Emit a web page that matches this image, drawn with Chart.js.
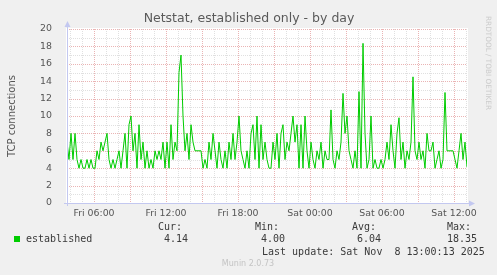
<!DOCTYPE html>
<html>
<head>
<meta charset="utf-8">
<script src="https://cdn.jsdelivr.net/npm/chart.js@4"></script>
<style>
  html, body { margin: 0; padding: 0; background: #f0f0f0; }
  canvas { display: block; }
</style>
</head>
<body>
<canvas id="myChart" width="497" height="275"></canvas>
<script>
// time axis: hours counted from Fri 00:00, one sample every 10 minutes
const startHour = 3.75;
const stepHours = 1 / 6;
const established = [
    7, 5, 8, 5, 8,
    5, 4, 5, 4, 4, 5, 4, 5, 4, 4,
    6, 5, 7, 6, 7,
    8, 5, 4, 5, 4,
    5, 6, 4, 6,
    8, 4, 9, 10,
    6, 8, 4, 9,
    5, 7, 4,
    6, 4, 5, 4, 6,
    5, 6, 5, 7, 4,
    7, 4, 9,
    5, 7, 6,
    15, 17,
    10, 6, 8,
    5, 9, 7, 6,
    6, 6, 6,
    4, 5, 4,
    7, 5, 8, 6,
    4, 7, 5, 4,
    6, 4, 7, 5, 8,
    5, 7, 10, 6,
    5, 4, 6,
    4, 8, 9, 5, 10,
    4, 9, 5, 7,
    5, 4, 4,
    7, 5, 8, 4, 8,
    9, 5, 7,
    6, 8, 10, 7, 9,
    4, 9, 4, 10,
    6, 4, 7, 5, 4,
    6, 5, 7, 4, 6, 5, 5,
    10.7,
    5, 4, 6, 5, 7,
    12.6,
    8, 10,
    6, 5, 4, 6,
    4,
    12.8,
    4,
    18.35,
    8, 4, 5, 10,
    4, 5, 4, 4, 5, 4,
    5, 7, 5, 9, 6, 4, 8, 9.8,
    5, 7, 4, 6, 5, 7,
    14.5,
    6, 5, 7, 5, 6, 4, 8, 6,
    6, 7, 4, 5, 6, 4, 5,
    12.7,
    6, 6, 6, 6, 5, 4, 6,
    8, 5, 7, 4.14
];
const tickHours = [6, 12, 18, 24, 30, 36];
const tickLabels = ['Fri 06:00', 'Fri 12:00', 'Fri 18:00', 'Sat 00:00', 'Sat 06:00', 'Sat 12:00'];
const yTicks = [0, 2, 4, 6, 8, 10, 12, 14, 16, 18, 20];
const statNames = ['Cur:', 'Min:', 'Avg:', 'Max:'];
const statValues = ['4.14', '4.00', '6.04', '18.35'];

const endHour = startHour + (established.length - 1) * stepHours;
const points = established.map((v, i) => ({ x: startHour + i * stepHours, y: v }));

const sans = '"DejaVu Sans", sans-serif';
const mono = '"DejaVu Sans Mono", monospace';

//background, white plot area and dotted grid
const gridPlugin = {
    id: 'muninGrid',
    beforeDraw(chart) {
        const { ctx, chartArea: a, scales: { x, y } } = chart;
        ctx.save();
        ctx.fillStyle = '#f0f0f0';
        ctx.fillRect(0, 0, chart.width, chart.height);
        ctx.fillStyle = '#ffffff';
        ctx.fillRect(a.left - 1, a.top - 1, a.right - a.left + 2, a.bottom - a.top + 1);
        ctx.lineWidth = 1;
        ctx.setLineDash([1, 1]);
        for (let v = 1; v <= 20; v++) {
            const py = Math.round(y.getPixelForValue(v)) + 0.5;
            ctx.strokeStyle = v % 2 === 0 ? '#eab4b4' : '#e0e0e0';
            ctx.beginPath();
            ctx.moveTo(a.left, py);
            ctx.lineTo(a.right, py);
            ctx.stroke();
        }
        for (let h = Math.ceil(startHour); h <= endHour; h++) {
            const px = Math.round(x.getPixelForValue(h)) + 0.5;
            ctx.strokeStyle = h % 3 === 0 ? '#eab4b4' : '#e0e0e0';
            ctx.beginPath();
            ctx.moveTo(px, a.top);
            ctx.lineTo(px, a.bottom);
            ctx.stroke();
        }
        ctx.restore();
    },
    afterDatasetsDraw(chart) {
        const { ctx, chartArea: a } = chart;
        ctx.save();
        //axes with arrows
        ctx.strokeStyle = '#c3c8f0';
        ctx.fillStyle = '#c3c8f0';
        ctx.lineWidth = 1;
        ctx.beginPath();
        ctx.moveTo(a.left + 0.5, a.bottom + 3);
        ctx.lineTo(a.left + 0.5, a.top - 4);
        ctx.moveTo(a.left - 3, a.bottom + 0.5);
        ctx.lineTo(a.right + 4, a.bottom + 0.5);
        ctx.stroke();
        ctx.beginPath();
        ctx.moveTo(a.left + 0.5, a.top - 8);
        ctx.lineTo(a.left - 2.5, a.top - 2);
        ctx.lineTo(a.left + 3.5, a.top - 2);
        ctx.fill();
        ctx.beginPath();
        ctx.moveTo(a.right + 8, a.bottom + 0.5);
        ctx.lineTo(a.right + 2, a.bottom - 2.5);
        ctx.lineTo(a.right + 2, a.bottom + 3.5);
        ctx.fill();

        //title
        ctx.fillStyle = '#5a5a5a';
        ctx.font = '12.5px ' + sans;
        ctx.textAlign = 'center';
        ctx.textBaseline = 'middle';
        ctx.fillText('Netstat, established only - by day', 249, 19);

        //legend block
        ctx.textAlign = 'left';
        ctx.font = '10px ' + mono;
        ctx.fillStyle = '#3a3a3a';
        const headX = [158, 255, 352, 447];
        const valX = [164, 261, 357, 447];
        statNames.forEach((s, i) => ctx.fillText(s, headX[i], 227));
        statValues.forEach((s, i) => ctx.fillText(s, valX[i], 239));
        ctx.fillText('established', 26, 239);
        ctx.fillText('Last update: Sat Nov  8 13:00:13 2025', 262, 252);
        ctx.fillStyle = '#00cc00';
        ctx.fillRect(14, 236, 6, 6);

        ctx.fillStyle = '#c4c4c4';
        ctx.font = '8px ' + sans;
        ctx.textAlign = 'center';
        ctx.fillText('Munin 2.0.73', 248, 264);

        //vertical rrdtool credit
        ctx.translate(488, 16);
        ctx.rotate(Math.PI / 2);
        ctx.textAlign = 'left';
        ctx.fillStyle = '#cccccc';
        ctx.font = '7.3px ' + sans;
        ctx.fillText('RRDTOOL / TOBI OETIKER', 0, 0);
        ctx.restore();
    }
};

const ctx = document.getElementById('myChart').getContext('2d');
const myChart = new Chart(ctx, {
    type: 'line',
    data: {
        datasets: [{
            label: 'established',
            data: points,
            borderColor: '#00cc00',
            borderWidth: 1,
            pointRadius: 0,
            tension: 0,
            fill: false
        }]
    },
    options: {
        responsive: false,
        animation: false,
        devicePixelRatio: 1,
        layout: { padding: { top: 29, right: 30, bottom: 52, left: 0 } },
        plugins: {
            legend: { display: false },
            tooltip: { enabled: false }
        },
        scales: {
            x: {
                type: 'linear',
                min: startHour,
                max: endHour,
                afterBuildTicks: scale => {
                    scale.ticks = tickHours.map(h => ({ value: h }));
                },
                afterFit: scale => { scale.height = 20; },
                ticks: {
                    autoSkip: false,
                    maxRotation: 0,
                    padding: 5,
                    color: '#555555',
                    font: { family: sans, size: 9.4 },
                    callback: (value) => tickLabels[tickHours.indexOf(value)]
                },
                grid: { display: false, drawTicks: false },
                border: { display: false }
            },
            y: {
                min: 0,
                max: 20,
                afterBuildTicks: scale => {
                    scale.ticks = yTicks.map(v => ({ value: v }));
                },
                afterFit: scale => { scale.width = 67; },
                ticks: {
                    padding: 7,
                    color: '#555555',
                    font: { family: sans, size: 9.4 }
                },
                title: {
                    display: true,
                    text: 'TCP connections',
                    color: '#555555',
                    font: { family: sans, size: 10 },
                    padding: { top: 6, bottom: 0 }
                },
                grid: { display: false },
                border: { display: false }
            }
        }
    },
    plugins: [gridPlugin]
});
</script>
</body>
</html>
